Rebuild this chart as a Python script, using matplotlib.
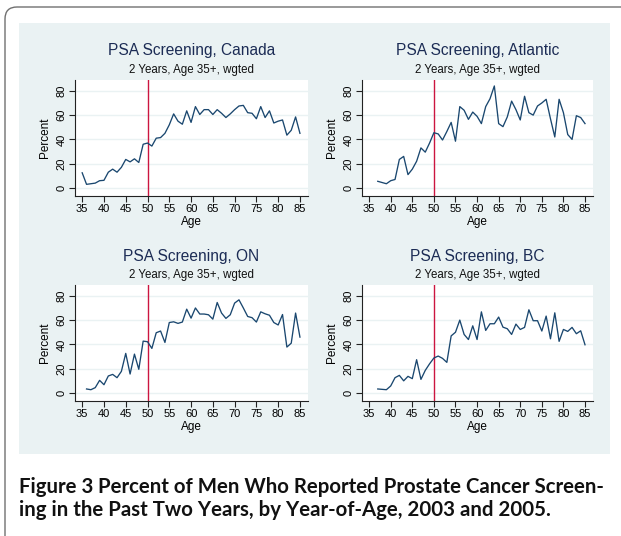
import matplotlib
matplotlib.use("Agg")
import matplotlib.pyplot as plt
from matplotlib.patches import FancyBboxPatch, Rectangle
from matplotlib.transforms import IdentityTransform

# ---------------- data ----------------
ages_canada = list(range(35, 86))
canada = [12.5, 3, 3.5, 4, 6, 6.3, 13, 15.5, 13, 17,
          23.5, 21.5, 24, 21, 36, 37, 34.5, 41, 41.5, 45,
          52, 61, 55, 52.5, 63.5, 54, 67, 60.5, 64.5, 64.5,
          60.5, 64.5, 61.5, 58, 61, 64.5, 67.5, 68, 62, 61.5,
          57, 67, 58, 63.5, 53.5, 55, 56, 43.5, 47.5, 58.5, 45]

ages_atlantic = list(range(37, 86))
atlantic = [5.5, 4.5, 3.5, 6, 7, 23.5, 26, 11, 15.5, 22,
            33, 29.5, 37, 45.5, 44.5, 39.5, 46.5, 54, 38.5, 67,
            64, 56.5, 62.5, 59, 53, 67, 73.5, 84, 53, 50.5,
            58.5, 71.5, 64.5, 56, 75.5, 62, 60, 67.5, 70, 73,
            57, 42, 73, 62, 44, 40, 59.5, 58, 53]

ages_on = list(range(36, 86))
ontario = [3.3, 2.7, 4.4, 10.4, 6.8, 14, 15.3, 12.6, 17.8, 32.6,
           15.6, 32, 19.5, 42.7, 42.2, 36.7, 49.6, 51, 41.6, 58,
           58.6, 57.3, 58.4, 69, 61.6, 70, 65, 65, 64.4, 60.8,
           74.5, 65.8, 61.4, 64.4, 74, 76.7, 70, 63, 62, 58.4,
           66.8, 65.2, 64, 58, 56, 64.6, 37.8, 41, 65.8, 46]

ages_bc = list(range(37, 86))
bc = [3.3, 3, 2.7, 5.8, 12.6, 14.5, 10, 13.7, 11.8, 27.4,
      11.2, 18.6, 24, 28.8, 30.4, 28.5, 25.2, 47, 50, 60,
      48.2, 44, 55.3, 44, 66.8, 51.5, 57, 57, 62.5, 54.2,
      52.9, 48.2, 56.7, 52.3, 54, 68.5, 59.5, 59.5, 51, 63.3,
      44.6, 66, 42.5, 52.3, 50.7, 54, 48.8, 51.2, 39.7]

titles = ["PSA Screening, Canada", "PSA Screening, Atlantic",
          "PSA Screening, ON", "PSA Screening, BC"]
subtitle = "2 Years, Age 35+, wgted"
x_ticks = [35, 40, 45, 50, 55, 60, 65, 70, 75, 80, 85]
y_ticks = [0, 20, 40, 60, 80]
ref_age = 50
caption_bold = "Figure 3"
caption_line1 = " Percent of Men Who Reported Prostate Cancer Screen-"
caption_line2 = "ing in the Past Two Years, by Year-of-Age, 2003 and 2005."

series = [(ages_canada, canada), (ages_atlantic, atlantic),
          (ages_on, ontario), (ages_bc, bc)]

# ---------------- styling ----------------
W, H = 621, 536
BG = "#eaf2f3"
LINE = "#1a476f"
RED = "#cc1540"
TITLE_C = "#1c2c55"
FONT = "Liberation Sans"

fig = plt.figure(figsize=(W / 100, H / 100), dpi=100)
fig.patch.set_facecolor("white")

# outer rounded frame
frame = FancyBboxPatch((5, -30), 700, H - 7 + 30,
                       boxstyle="round,pad=0,rounding_size=12",
                       transform=IdentityTransform(), facecolor="white",
                       edgecolor="#707070", linewidth=1.0, zorder=0)
fig.patches.append(frame)
# inner graph region
panel = Rectangle((19, H - 454), 591, 454 - 23, transform=IdentityTransform(),
                  facecolor=BG, edgecolor="none", zorder=1)
fig.patches.append(panel)


def rect(l, t, r, b):
    return [l / W, 1 - b / H, (r - l) / W, (b - t) / H]


boxes = [(75, 80, 308, 196), (362, 80, 593, 196),
         (75, 285, 308, 401), (362, 285, 593, 401)]

for (l, t, r, b), (ages, vals), title in zip(boxes, series, titles):
    ax = fig.add_axes(rect(l, t, r, b))
    ax.set_facecolor("white")
    ax.set_zorder(2)
    ax.plot(ages, vals, color=LINE, linewidth=0.95, zorder=3)
    ax.axvline(ref_age, color=RED, linewidth=1.0, zorder=2)
    ax.set_xlim(33.35, 86.85)
    ax.set_ylim(-6.6, 88.9)
    ax.set_xticks(x_ticks)
    ax.set_yticks(y_ticks)
    for yv in y_ticks:
        ax.axhline(yv, color=BG, linewidth=1.0, zorder=1)
    for s in ["top", "right"]:
        ax.spines[s].set_visible(False)
    for s in ["left", "bottom"]:
        ax.spines[s].set_color("#222222")
        ax.spines[s].set_linewidth(0.8)
    ax.tick_params(axis="both", direction="out", length=4, width=0.8,
                   color="#222222", labelsize=8, pad=2)
    for lab in ax.get_yticklabels():
        lab.set_rotation(90)
        lab.set_va("center")
        lab.set_family(FONT)
    for lab in ax.get_xticklabels():
        lab.set_family(FONT)
    ax.set_ylabel("Percent", fontsize=8.5, family=FONT, labelpad=4)
    ax.set_xlabel("Age", fontsize=8.5, family=FONT, labelpad=1.5)
    cx = (l + r) / 2
    fig.text(cx / W, 1 - (t - 29) / H, title, ha="center", va="center",
             fontsize=11.2, family=FONT, color=TITLE_C)
    fig.text(cx / W, 1 - (t - 10) / H, subtitle, ha="center", va="center",
             fontsize=8.3, family=FONT, color="#111111")

# caption
cap_font = "Lato"
fs = 11.0
fig.canvas.draw()
renderer = fig.canvas.get_renderer()
t1 = fig.text(19 / W, 1 - 487 / H, caption_bold, ha="left", va="center",
              fontsize=fs, family=cap_font, weight="bold", color="#111111")
bb1 = t1.get_window_extent(renderer)
t2 = fig.text(bb1.x1 / W, 1 - 487 / H, caption_line1, ha="left", va="center",
              fontsize=fs, family=cap_font, weight="bold", color="#111111")
bb2 = t2.get_window_extent(renderer)
total = bb2.x1 - bb1.x0
scale = 582.0 / total
fs2 = fs * scale
t1.set_fontsize(fs2)
bb1 = t1.get_window_extent(renderer)
t2.set_fontsize(fs2)
t2.set_x(bb1.x1 / W)
fig.text(19 / W, 1 - 510 / H, caption_line2, ha="left", va="center",
         fontsize=fs2, family=cap_font, weight="bold", color="#111111")

fig.savefig("out.png", dpi=100, facecolor="white")
